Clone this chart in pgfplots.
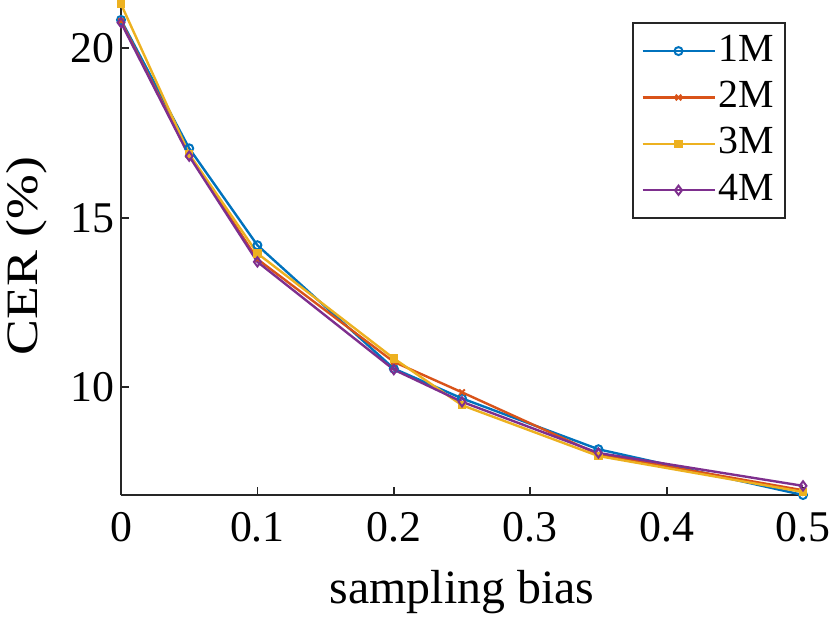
\documentclass[border=0pt]{standalone}
\usepackage{graphicx}
\usepackage{pgfplots}
\pgfplotsset{compat=1.18}
\usepackage{fontspec}
\setmainfont{Liberation Serif}
\definecolor{m1}{rgb}{0,0.447,0.741}
\definecolor{m2}{rgb}{0.85,0.325,0.098}
\definecolor{m3}{rgb}{0.929,0.694,0.125}
\definecolor{m4}{rgb}{0.494,0.184,0.556}
\definecolor{axc}{rgb}{0.15,0.15,0.15}
\begin{document}
\begin{tikzpicture}
\begin{axis}[
  at={(0,0)}, anchor=south west,
  scale only axis, width=341bp, height=245.5bp,
  xmin=0, xmax=0.5, ymin=6.82, ymax=21.31,
  axis lines=left,
  axis line style={-, axc, line width=0.9bp},
  xtick={0,0.1,0.2,0.3,0.4,0.5},
  ytick={10,15,20},
  xticklabels={0,0.1,0.2,0.3,0.4,0.5},
  tick align=inside,
  major tick length=4bp,
  tick style={axc, line width=0.9bp},
  font=\fontsize{22}{26}\selectfont,
  ticklabel style={font=\fontsize{22}{26}\selectfont},
  /pgf/number format/assume math mode=true,
  xticklabel style={yshift=-5bp},
  clip=false,
  xlabel={sampling bias},
  ylabel={\scalebox{1.2}[1]{CER (\%)}},
  every axis x label/.style={at={(axis description cs:0.5,-0.22)}, anchor=base, font=\fontsize{24}{28}\selectfont},
  every axis y label/.style={at={(axis description cs:-0.1217,0.487)}, rotate=90, anchor=base, font=\fontsize{22.5}{27}\selectfont},
  legend image code/.code={\draw[mark repeat=2,mark phase=2,#1] plot coordinates {(0bp,0bp)(18bp,0bp)(36bp,0bp)};},
  legend cell align=left,
  legend style={at={(axis description cs:0.975,0.963)}, anchor=north east,
    draw=axc, line width=0.9bp, fill=white, inner xsep=4bp, inner ysep=3bp,
    row sep=1.2bp,
    nodes={inner sep=1.5bp, text height=14.5bp, text depth=4.5bp},
    font=\fontsize{20}{24}\selectfont},
  every axis plot/.append style={line width=1.2bp},
]
\addplot[m1, mark=o, mark size=2bp, mark options={line width=1bp}] coordinates {
(0,20.84)(0.05,17.05)(0.1,14.19)(0.2,10.55)(0.25,9.67)(0.35,8.17)(0.5,6.82)};
\addlegendentry{1M}
\addplot[m2, mark=x, mark size=2bp, mark options={line width=1bp}] coordinates {
(0,20.80)(0.05,16.85)(0.1,13.78)(0.2,10.75)(0.25,9.85)(0.35,8.02)(0.5,6.96)};
\addlegendentry{2M}
\addplot[m3, mark=square*, mark size=1.8bp, mark options={line width=0.6bp}] coordinates {
(0,21.31)(0.05,16.88)(0.1,13.95)(0.2,10.85)(0.25,9.47)(0.35,7.97)(0.5,6.91)};
\addlegendentry{3M}
\addplot[m4, mark=diamond, mark size=2.3bp, mark options={line width=1bp}] coordinates {
(0,20.76)(0.05,16.82)(0.1,13.70)(0.2,10.52)(0.25,9.57)(0.35,8.06)(0.5,7.09)};
\addlegendentry{4M}
\end{axis}
\pgfresetboundingbox
\path (-60.5bp,-61bp) rectangle (354.5bp,247.5bp);
\end{tikzpicture}
\end{document}
